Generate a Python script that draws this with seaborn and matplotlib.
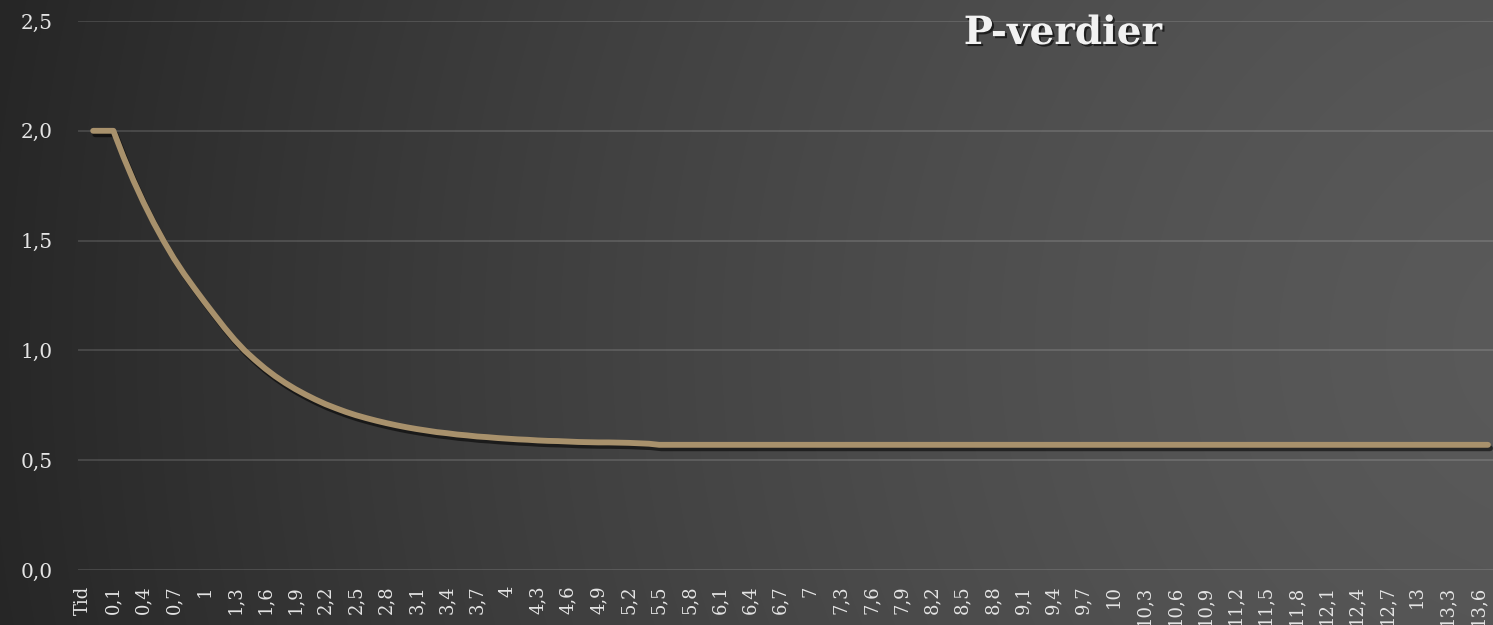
import numpy as np
import pandas as pd
import matplotlib
matplotlib.use("Agg")
import matplotlib.pyplot as plt
import matplotlib.patheffects as pe
import seaborn as sns

# ---- data -------------------------------------------------------------
header_label = "Tid"
time_start = -0.1
time_step = 0.1
n_times = 139
# P-verdier (first entry belongs to the "Tid" header row -> no value)
p_values = [
    np.nan, 2.000, 2.000,
    2.000, 1.881, 1.772, 1.672, 1.580, 1.496, 1.418, 1.348, 1.284, 1.222,
    1.162, 1.103, 1.048, 0.999, 0.957, 0.918, 0.883, 0.852, 0.824, 0.799,
    0.776, 0.755, 0.737, 0.720, 0.705, 0.692, 0.680, 0.669, 0.659, 0.650,
    0.642, 0.635, 0.628, 0.623, 0.617, 0.613, 0.608, 0.605, 0.601, 0.598,
    0.595, 0.593, 0.590, 0.588, 0.587, 0.585, 0.583, 0.582, 0.581, 0.581,
    0.580, 0.579, 0.577, 0.575, 0.570, 0.570, 0.570, 0.570, 0.570, 0.570,
    0.570, 0.570, 0.570, 0.570, 0.570, 0.570, 0.570, 0.570, 0.570, 0.570,
    0.570, 0.570, 0.570, 0.570, 0.570, 0.570, 0.570, 0.570, 0.570, 0.570,
    0.570, 0.570, 0.570, 0.570, 0.570, 0.570, 0.570, 0.570, 0.570, 0.570,
    0.570, 0.570, 0.570, 0.570, 0.570, 0.570, 0.570, 0.570, 0.570, 0.570,
    0.570, 0.570, 0.570, 0.570, 0.570, 0.570, 0.570, 0.570, 0.570, 0.570,
    0.570, 0.570, 0.570, 0.570, 0.570, 0.570, 0.570, 0.570, 0.570, 0.570,
    0.570, 0.570, 0.570, 0.570, 0.570, 0.570, 0.570, 0.570, 0.570, 0.570,
    0.570, 0.570, 0.570, 0.570, 0.570, 0.570, 0.570,
]
y_ticks = [0.0, 0.5, 1.0, 1.5, 2.0, 2.5]
title = "P-verdier"


def fmt_num(v):
    s = f"{v:.1f}"
    if s.endswith(".0"):
        s = s[:-2]
    if s == "-0":
        s = "0"
    return s.replace(".", ",")


categories = [header_label] + [fmt_num(round(time_start + i * time_step, 1)) for i in range(n_times)]
df = pd.DataFrame({"pos": np.arange(len(categories)), "kat": categories, "P": p_values})

# ---- style ------------------------------------------------------------
sns.set_theme(style="dark")
plt.rcParams["font.family"] = ["DejaVu Serif"]

W, H = 1493, 625
fig = plt.figure(figsize=(W / 100, H / 100), dpi=100)

# background radial gradient
bg = fig.add_axes([0, 0, 1, 1], zorder=0)
yy, xx = np.mgrid[0:H, 0:W]
cx, cy = 1.05 * W, 0.55 * H
d = np.sqrt((xx - cx) ** 2 + (yy - cy) ** 2) / 1600.0
d = np.clip(d, 0, 1)
val = (90 - 52 * d ** 1.5) / 255.0
bg.imshow(np.dstack([val, val, val]), extent=[0, 1, 0, 1], aspect="auto", origin="upper")
bg.set_axis_off()

ax = fig.add_axes([78 / W, 1 - 570 / H, 1 - 78 / W, (570 - 21) / H], zorder=1)
ax.patch.set_alpha(0)

sns.lineplot(data=df, x="pos", y="P", ax=ax, color="#a8916c", linewidth=4.2,
             solid_capstyle="round", solid_joinstyle="round",
             path_effects=[pe.SimpleLineShadow(offset=(1.5, -2.5), shadow_color="black", alpha=0.55),
                           pe.Normal()])

ax.set_xlim(-0.5, len(categories) - 0.5)
ax.set_ylim(0, 2.5)
ax.set_yticks(y_ticks)
ax.set_yticklabels([f"{v:.1f}".replace(".", ",") for v in y_ticks])
ax.set_xticks(df["pos"][::3])
ax.set_xticklabels(df["kat"][::3], rotation=90)
ax.grid(axis="y", color="white", alpha=0.13, linewidth=1.5)
ax.grid(axis="x", visible=False)
for s in ax.spines.values():
    s.set_visible(False)
ax.set_xlabel("")
ax.set_ylabel("")
ax.tick_params(axis="y", length=0, pad=18, labelsize=14.5, labelcolor="#e4e4e4")
ax.tick_params(axis="x", length=0, pad=11, labelsize=13, labelcolor="#e4e4e4")

fig.text(1063 / W, 1 - 33 / H, title, ha="center", va="center", fontsize=28,
         fontweight="bold", color="#f2f2f2", zorder=5,
         path_effects=[pe.withSimplePatchShadow(offset=(1.5, -1.5), shadow_rgbFace="black", alpha=0.6)])

fig.savefig("out.png", dpi=100)
